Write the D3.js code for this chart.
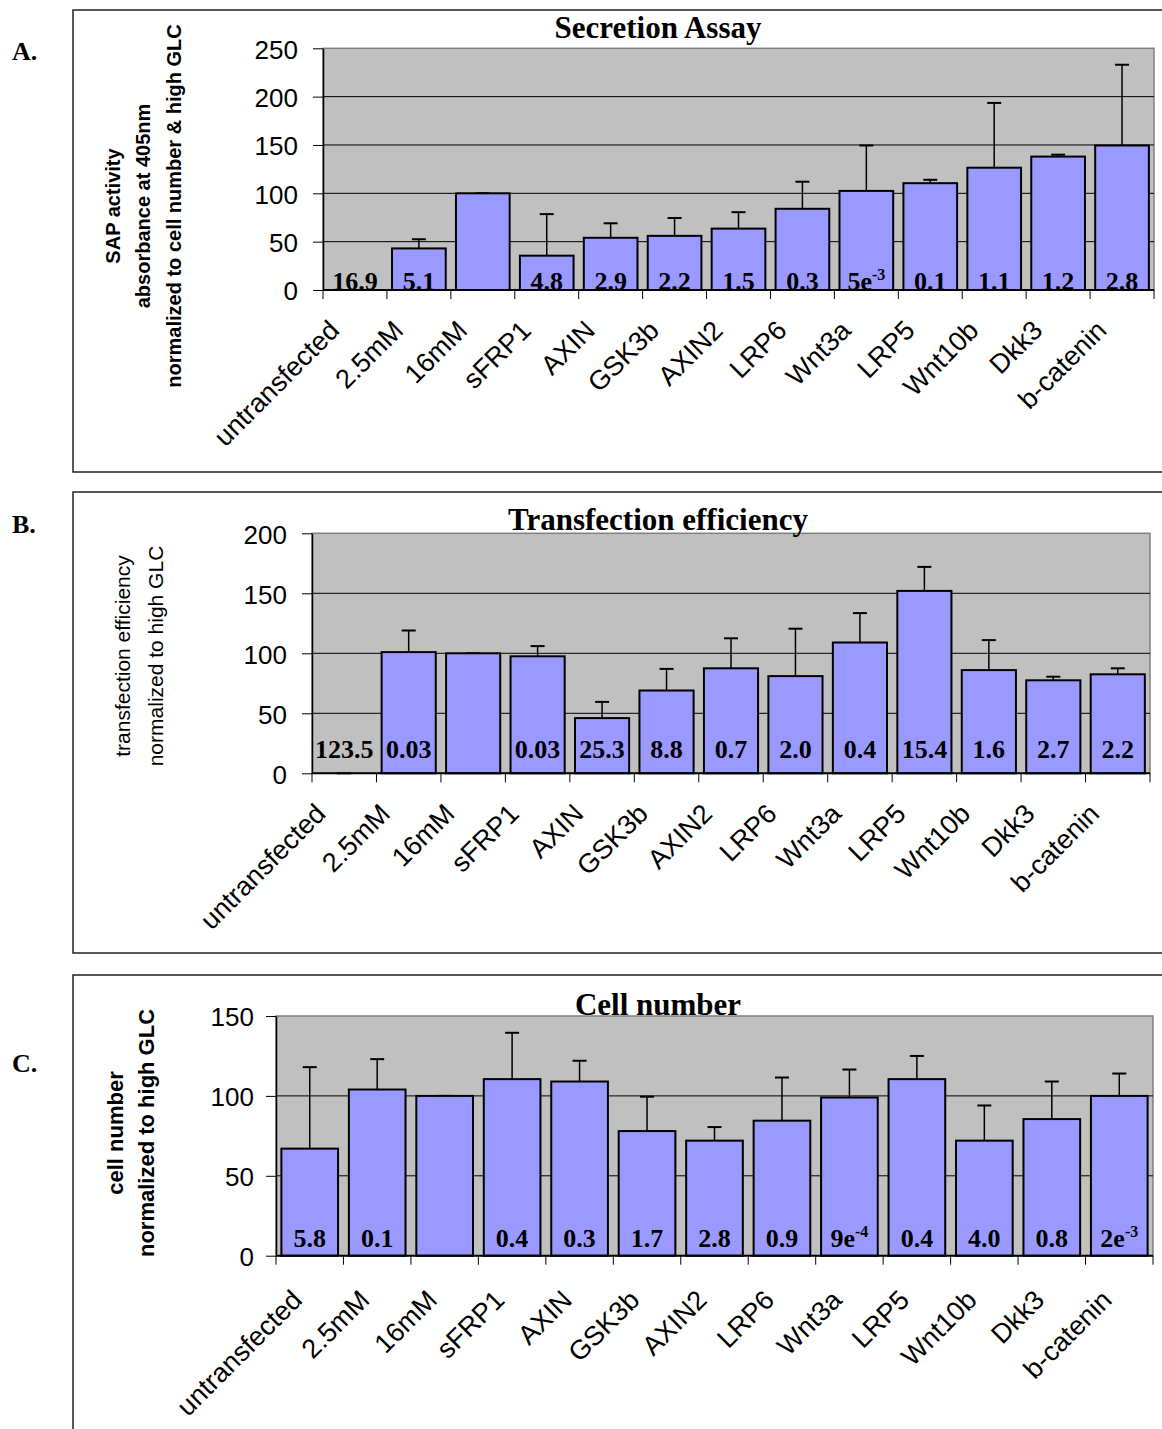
<!DOCTYPE html>
<html>
<head>
<meta charset="utf-8">
<script src="https://cdn.jsdelivr.net/npm/d3@7"></script>
<style>
  body { margin: 0; background: #fff; }
  svg { display: block; }
</style>
</head>
<body>
<script>
// categories shared by the three panels
var categories = ["untransfected", "2.5mM", "16mM", "sFRP1", "AXIN", "GSK3b", "AXIN2",
                  "LRP6", "Wnt3a", "LRP5", "Wnt10b", "Dkk3", "b-catenin"];

// A. secretion assay
var secretionValues = [0, 43, 100, 35.5, 54, 56, 63.5, 84, 102.5, 110.5, 126.5, 138, 149.5];
var secretionErrors = [0, 9.5, 0, 43, 15, 18.5, 17, 28, 47, 3.5, 67, 2, 83.5];
var secretionLabels = ["16.9", "5.1", "", "4.8", "2.9", "2.2", "1.5", "0.3", "5e-3", "0.1", "1.1", "1.2", "2.8"];
var secretionTicks = [0, 50, 100, 150, 200, 250];

// B. transfection efficiency
var transfectionValues = [0, 101, 100, 97.5, 46, 69, 87.5, 81, 109, 152, 86, 77.5, 82.5];
var transfectionErrors = [0, 18, 0, 8.5, 13.5, 18, 25, 39.5, 24.5, 20, 25, 3, 5];
var transfectionLabels = ["123.5", "0.03", "", "0.03", "25.3", "8.8", "0.7", "2.0", "0.4", "15.4", "1.6", "2.7", "2.2"];
var transfectionTicks = [0, 50, 100, 150, 200];

// C. cell number
var cellValues = [67, 104, 100, 110.5, 109, 78, 72, 84.5, 99, 110.5, 72, 85.5, 100];
var cellErrors = [51, 19, 0, 29, 13, 21.5, 8.5, 27, 17.5, 14.5, 22, 23.5, 14];
var cellLabels = ["5.8", "0.1", "", "0.4", "0.3", "1.7", "2.8", "0.9", "9e-4", "0.4", "4.0", "0.8", "2e-3"];
var cellTicks = [0, 50, 100, 150];

var W = 1162, H = 1429;
var svg = d3.select("body").append("svg")
    .attr("width", W)
    .attr("height", H);

var serif = "'Liberation Serif', 'Times New Roman', serif";
var sans = "'Liberation Sans', Arial, sans-serif";

function drawPanel(p) {
    var g = svg.append("g");

    // outer frame (right side runs off the page)
    g.append("rect")
        .attr("x", 73).attr("y", p.boxTop)
        .attr("width", 1200).attr("height", p.boxBottom - p.boxTop)
        .attr("fill", "none")
        .attr("stroke", "#222")
        .attr("stroke-width", 1.5);

    g.append("text")
        .attr("x", 12).attr("y", p.letterY)
        .attr("font-family", serif).attr("font-weight", "bold")
        .attr("font-size", 26)
        .text(p.letter);

    var x = d3.scaleBand()
        .domain(categories)
        .range([p.left, p.right])
        .paddingInner(0.16)
        .paddingOuter(0.08);
    var y = d3.scaleLinear()
        .domain([0, d3.max(p.ticks)])
        .range([p.bottom, p.top]);

    // plot background
    g.append("rect")
        .attr("x", p.left).attr("y", p.top)
        .attr("width", p.right - p.left).attr("height", p.bottom - p.top)
        .attr("fill", "#c0c0c0")
        .attr("stroke", "#808080")
        .attr("stroke-width", 1.5);

    // gridlines
    g.selectAll(".grid")
        .data(p.ticks.filter(function (t) { return t > 0 && t < d3.max(p.ticks); }))
        .enter().append("line")
        .attr("x1", p.left).attr("x2", p.right)
        .attr("y1", function (d) { return y(d); })
        .attr("y2", function (d) { return y(d); })
        .attr("stroke", "#000")
        .attr("stroke-width", 1);

    // error bars (upper only)
    var eb = g.selectAll(".err")
        .data(categories)
        .enter().append("g");
    eb.append("line")
        .attr("x1", function (d) { return x(d) + x.bandwidth() / 2; })
        .attr("x2", function (d) { return x(d) + x.bandwidth() / 2; })
        .attr("y1", function (d, i) { return y(p.values[i]); })
        .attr("y2", function (d, i) { return y(p.values[i] + p.errors[i]); })
        .attr("stroke", "#000").attr("stroke-width", 1.5);
    eb.append("line")
        .attr("x1", function (d) { return x(d) + x.bandwidth() / 2 - 7; })
        .attr("x2", function (d) { return x(d) + x.bandwidth() / 2 + 7; })
        .attr("y1", function (d, i) { return y(p.values[i] + p.errors[i]); })
        .attr("y2", function (d, i) { return y(p.values[i] + p.errors[i]); })
        .attr("stroke", "#000").attr("stroke-width", 2);

    // bars
    g.selectAll(".bar")
        .data(categories.filter(function (d, i) { return p.values[i] > 0; }))
        .enter().append("rect")
        .attr("x", function (d) { return x(d); })
        .attr("width", x.bandwidth())
        .attr("y", function (d) { return y(p.values[categories.indexOf(d)]); })
        .attr("height", function (d) { return p.bottom - y(p.values[categories.indexOf(d)]); })
        .attr("fill", "#9999ff")
        .attr("stroke", "#000")
        .attr("stroke-width", 2);

    // value labels inside bars
    var lab = g.selectAll(".lab")
        .data(categories)
        .enter().append("text")
        .attr("x", function (d) { return x(d) + x.bandwidth() / 2; })
        .attr("y", p.bottom - p.labelOffset)
        .attr("text-anchor", "middle")
        .attr("font-family", serif).attr("font-weight", "bold")
        .attr("font-size", 26);
    lab.each(function (d, i) {
        var s = p.labels[i];
        var m = s.match(/^(\d)e(-\d)$/);
        var t = d3.select(this);
        if (m) {
            t.append("tspan").text(m[1] + "e");
            t.append("tspan").attr("dy", -10).attr("font-size", 16).text(m[2]);
        } else {
            t.text(s);
        }
    });

    // y axis
    var yAxis = g.append("g")
        .attr("transform", "translate(" + p.left + ",0)")
        .call(d3.axisLeft(y).tickValues(p.ticks).tickSize(10).tickSizeOuter(0).tickPadding(p.tickPad));
    yAxis.select(".domain").attr("stroke", "#000").attr("stroke-width", 1.5);
    yAxis.selectAll(".tick line").attr("stroke", "#000").attr("stroke-width", 1);
    yAxis.selectAll(".tick text")
        .attr("font-family", sans).attr("font-size", 26)
        .attr("fill", "#000")
        .attr("dy", "0.38em");

    // x axis: line and ticks at band boundaries
    g.append("line")
        .attr("x1", p.left).attr("x2", p.right)
        .attr("y1", p.bottom).attr("y2", p.bottom)
        .attr("stroke", "#000").attr("stroke-width", 2);
    var edges = categories.map(function (d) { return x(d) - x.step() * x.paddingOuter(); });
    edges.push(p.right);
    g.selectAll(".xt")
        .data(edges)
        .enter().append("line")
        .attr("x1", function (d) { return d; }).attr("x2", function (d) { return d; })
        .attr("y1", p.bottom).attr("y2", p.bottom + 9)
        .attr("stroke", "#000").attr("stroke-width", 1);

    g.selectAll(".xl")
        .data(categories)
        .enter().append("text")
        .attr("transform", function (d) {
            return "translate(" + (x(d) + x.bandwidth() / 2 + p.xlDx) + "," + (p.bottom + p.xlDy) + ") rotate(-45)";
        })
        .attr("text-anchor", "end")
        .attr("font-family", sans).attr("font-size", 27)
        .text(function (d) { return d; });

    // title
    g.append("text")
        .attr("x", 658).attr("y", p.titleY)
        .attr("text-anchor", "middle")
        .attr("font-family", serif).attr("font-weight", "bold")
        .attr("font-size", 31)
        .text(p.title);

    // y axis title
    p.yTitle.forEach(function (line, i) {
        g.append("text")
            .attr("transform", "translate(" + p.yTitleX[i] + "," + p.yTitleY + ") rotate(-90)")
            .attr("text-anchor", "middle")
            .attr("dominant-baseline", "central")
            .attr("font-family", sans)
            .attr("font-weight", p.yTitleBold ? "bold" : "normal")
            .attr("font-size", p.yTitleSize)
            .text(line);
    });
}

drawPanel({
    letter: "A.", letterY: 60, boxTop: 10, boxBottom: 472,
    left: 323, right: 1154, top: 48.3, bottom: 290,
    ticks: secretionTicks, values: secretionValues, errors: secretionErrors, labels: secretionLabels,
    labelOffset: 0, tickPad: 15, xlDx: -14, xlDy: 42,
    title: "Secretion Assay", titleY: 38,
    yTitle: ["SAP activity", "absorbance at 405nm", "normalized to cell number & high GLC"],
    yTitleX: [113, 143, 174], yTitleY: 206, yTitleBold: true, yTitleSize: 20
});

drawPanel({
    letter: "B.", letterY: 533, boxTop: 492, boxBottom: 953,
    left: 312, right: 1150, top: 533.3, bottom: 773.3,
    ticks: transfectionTicks, values: transfectionValues, errors: transfectionErrors, labels: transfectionLabels,
    labelOffset: 15, tickPad: 15, xlDx: -17, xlDy: 42,
    title: "Transfection efficiency", titleY: 530,
    yTitle: ["transfection efficiency", "normalized to high GLC"],
    yTitleX: [122, 155], yTitleY: 656, yTitleBold: false, yTitleSize: 21
});

drawPanel({
    letter: "C.", letterY: 1072, boxTop: 975, boxBottom: 1460,
    left: 276, right: 1153, top: 1016, bottom: 1255.7,
    ticks: cellTicks, values: cellValues, errors: cellErrors, labels: cellLabels,
    labelOffset: 9, tickPad: 12, xlDx: -6, xlDy: 46,
    title: "Cell number", titleY: 1015,
    yTitle: ["cell number", "normalized to high GLC"],
    yTitleX: [115, 146], yTitleY: 1133, yTitleBold: true, yTitleSize: 22
});
</script>
</body>
</html>
